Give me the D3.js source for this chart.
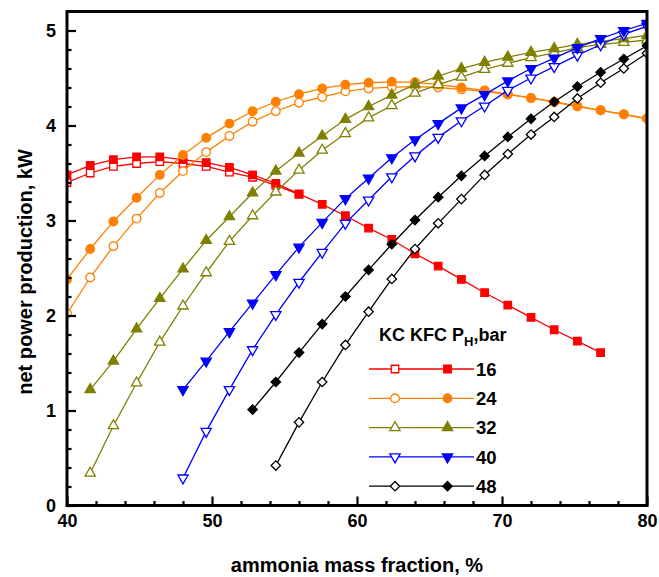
<!DOCTYPE html>
<html>
<head>
<meta charset="utf-8">
<script src="https://cdn.jsdelivr.net/npm/d3@7"></script>
<style>
  html, body { margin: 0; padding: 0; background: #fff; }
  svg { display: block; font-family: "Liberation Sans", Arial, sans-serif; font-weight: bold; }
</style>
</head>
<body>
<svg id="chart" width="659" height="577"></svg>
<script>
// Ammonia mass fraction, % (shared abscissa for all series)
const fraction = [40, 41.6, 43.2, 44.8, 46.4, 48, 49.6, 51.2, 52.8, 54.4, 56, 57.6, 59.2,
                  60.8, 62.4, 64, 65.6, 67.2, 68.8, 70.4, 72, 73.6, 75.2, 76.8, 78.4, 80];

// Net power production, kW — KC (open markers) and KFC (filled markers) per high pressure
const kc16  = [3.40, 3.50, 3.57, 3.60, 3.62, 3.60, 3.57, 3.51, 3.455, 3.37, 3.275,
               null, null, null, null, null, null, null, null, null, null, null, null, null, null, null];
const kfc16 = [3.48, 3.58, 3.64, 3.67, 3.67, 3.64, 3.61, 3.56, 3.48, 3.39, 3.28, 3.17, 3.05,
               2.92, 2.80, 2.65, 2.52, 2.38, 2.24, 2.11, 1.98, 1.85, 1.73, 1.61, null, null];

const kc24  = [2.02, 2.40, 2.73, 3.02, 3.29, 3.52, 3.72, 3.89, 4.04, 4.15, 4.24, 4.30, 4.36,
               4.39, 4.405, 4.41, 4.40, 4.38, 4.36, 4.325, 4.29, 4.245, 4.20, 4.16, 4.115, 4.07];
const kfc24 = [2.38, 2.70, 2.99, 3.24, 3.48, 3.69, 3.87, 4.02, 4.15, 4.25, 4.33, 4.39, 4.43,
               4.45, 4.46, 4.455, 4.43, 4.40, 4.37, 4.33, 4.29, 4.25, 4.205, 4.16, 4.12, 4.075];

const kc32  = [null, 0.34, 0.84, 1.29, 1.72, 2.10, 2.45, 2.78, 3.05, 3.30, 3.53, 3.74, 3.915,
               4.08, 4.21, 4.34, 4.43, 4.51, 4.59, 4.655, 4.715, 4.765, 4.82, 4.855, 4.875, 4.90];
const kfc32 = [null, 1.22, 1.52, 1.86, 2.18, 2.49, 2.79, 3.04, 3.29, 3.52, 3.71, 3.89, 4.065,
               4.20, 4.32, 4.43, 4.52, 4.60, 4.665, 4.72, 4.77, 4.81, 4.855, 4.885, 4.915, 4.95];

const kc40  = [null, null, null, null, null, 0.29, 0.78, 1.22, 1.64, 2.01, 2.35, 2.665, 2.97,
               3.215, 3.46, 3.68, 3.875, 4.05, 4.205, 4.37, 4.50, 4.62, 4.74, 4.85, 4.96, 5.045];
const kfc40 = [null, null, null, null, null, 1.22, 1.52, 1.83, 2.13, 2.43, 2.72, 2.98, 3.23,
               3.445, 3.66, 3.85, 4.02, 4.185, 4.325, 4.47, 4.60, 4.71, 4.82, 4.915, 5.00, 5.075];

const kc48  = [null, null, null, null, null, null, null, null, null, 0.42, 0.875, 1.30, 1.69,
               2.04, 2.385, 2.70, 2.97, 3.225, 3.48, 3.70, 3.905, 4.09, 4.285, 4.45, 4.60, 4.76];
const kfc48 = [null, null, null, null, null, null, null, null, 1.01, 1.30, 1.61, 1.91, 2.20,
               2.48, 2.75, 3.005, 3.245, 3.47, 3.68, 3.88, 4.07, 4.25, 4.41, 4.56, 4.70, 4.84];

const pressures = ["16", "24", "32", "40", "48"];
const xTicks = [40, 50, 60, 70, 80];
const yTicks = [0, 1, 2, 3, 4, 5];

const groups = [
  { label: pressures[0], color: "#ff0000", shape: "square",   kc: kc16, kfc: kfc16 },
  { label: pressures[1], color: "#ff8000", shape: "circle",   kc: kc24, kfc: kfc24 },
  { label: pressures[2], color: "#808000", shape: "triangle", kc: kc32, kfc: kfc32 },
  { label: pressures[3], color: "#0000ff", shape: "triangleDown", kc: kc40, kfc: kfc40 },
  { label: pressures[4], color: "#000000", shape: "diamond",  kc: kc48, kfc: kfc48 }
];

const svg = d3.select("#chart");
const W = 659, H = 577;
const m = { left: 67, right: 12, top: 11.5, bottom: 71.5 };
const iw = W - m.left - m.right, ih = H - m.top - m.bottom;

const x = d3.scaleLinear().domain([40, 80]).range([0, iw]);
const y = d3.scaleLinear().domain([0, 5.2]).range([ih, 0]);

const g = svg.append("g").attr("transform", `translate(${m.left},${m.top})`);

svg.append("defs").append("clipPath").attr("id", "plotClip")
  .append("rect").attr("x", 0).attr("y", 0).attr("width", iw).attr("height", ih);

// marker geometry
const symbolFor = {
  square:   { type: d3.symbolSquare,   size: 56, rot: 0 },
  circle:   { type: d3.symbolCircle,   size: 58, rot: 0 },
  triangle: { type: d3.symbolTriangle, size: 46, rot: 0 },
  triangleDown: { type: d3.symbolTriangle, size: 46, rot: 180 },
  diamond:  { type: d3.symbolSquare,   size: 44, rot: 45 }
};

function drawMarker(sel, shape, color, filled) {
  const s = symbolFor[shape];
  return sel.append("path")
    .attr("d", d3.symbol().type(s.type).size(s.size)())
    .attr("fill", filled ? color : "#fff")
    .attr("stroke", color)
    .attr("stroke-width", 1.3);
}

const plot = g.append("g").attr("clip-path", "url(#plotClip)");

const line = d3.line()
  .defined(d => d.v != null)
  .x(d => x(d.f))
  .y(d => y(d.v));

groups.forEach(gr => {
  [["kc", false], ["kfc", true]].forEach(([key, filled]) => {
    const pts = fraction.map((f, i) => ({ f, v: gr[key][i] }));
    plot.append("path")
      .datum(pts)
      .attr("fill", "none")
      .attr("stroke", gr.color)
      .attr("stroke-width", 1.3)
      .attr("d", line);
    const s = symbolFor[gr.shape];
    pts.filter(d => d.v != null).forEach(d => {
      const mk = plot.append("g")
        .attr("transform", `translate(${x(d.f)},${y(d.v)}) rotate(${s.rot})`);
      drawMarker(mk, gr.shape, gr.color, filled);
    });
  });
});

// axes: inward ticks, minor ticks every 2 % and 0.2 kW
const xMinor = d3.range(42, 80, 2).filter(v => v % 10 !== 0);
const yMinor = d3.range(0.2, 5.2, 0.2).map(v => +v.toFixed(1)).filter(v => Math.abs(v - Math.round(v)) > 1e-6);

const xAxis = g.append("g").attr("transform", `translate(0,${ih})`)
  .call(d3.axisBottom(x).tickValues(xTicks).tickSize(-9).tickPadding(9).tickFormat(d3.format("d")));
const xAxisMinor = g.append("g").attr("transform", `translate(0,${ih})`)
  .call(d3.axisBottom(x).tickValues(xMinor).tickSize(-4.5).tickFormat(""));
const yAxis = g.append("g")
  .call(d3.axisLeft(y).tickValues(yTicks).tickSize(-9).tickPadding(11).tickFormat(d3.format("d")));
const yAxisMinor = g.append("g")
  .call(d3.axisLeft(y).tickValues(yMinor).tickSize(-4.5).tickFormat(""));

[xAxis, xAxisMinor, yAxis, yAxisMinor].forEach(a => {
  a.select(".domain").remove();
  a.selectAll(".tick line").attr("stroke", "#000").attr("stroke-width", 2.2);
  a.selectAll(".tick text")
    .attr("fill", "#000")
    .style("font-family", '"Liberation Sans", Arial, sans-serif')
    .style("font-weight", "bold")
    .style("font-size", "18px");
});

// frame
g.append("rect")
  .attr("x", 0).attr("y", 0).attr("width", iw).attr("height", ih)
  .attr("fill", "none").attr("stroke", "#000").attr("stroke-width", 3);

// axis titles
svg.append("text")
  .attr("x", m.left + iw / 2).attr("y", 572)
  .attr("text-anchor", "middle")
  .style("font-size", "20px")
  .text("ammonia mass fraction, %");

svg.append("text")
  .attr("transform", `translate(32,272) rotate(-90)`)
  .attr("text-anchor", "middle")
  .style("font-size", "20px")
  .text("net power production, kW");

// legend
const legend = svg.append("g");
const title = legend.append("text").attr("x", 379).attr("y", 341).style("font-size", "18px");
title.append("tspan").text("KC KFC P");
title.append("tspan").attr("dy", 5).style("font-size", "13px").text("H");
title.append("tspan").attr("dy", -5).text(",bar");

groups.forEach((gr, i) => {
  const yy = 369 + i * 29.3;
  const row = legend.append("g").attr("transform", `translate(0,${yy})`);
  row.append("line").attr("x1", 369).attr("x2", 474).attr("y1", 0).attr("y2", 0)
    .attr("stroke", gr.color).attr("stroke-width", 1.3);
  const s = symbolFor[gr.shape];
  drawMarker(row.append("g").attr("transform", `translate(395,0) rotate(${s.rot})`), gr.shape, gr.color, false);
  drawMarker(row.append("g").attr("transform", `translate(447.5,0) rotate(${s.rot})`), gr.shape, gr.color, true);
  row.append("text").attr("x", 476).attr("y", 0).attr("dy", "0.36em")
    .style("font-size", "18.5px").text(gr.label);
});
</script>
</body>
</html>
